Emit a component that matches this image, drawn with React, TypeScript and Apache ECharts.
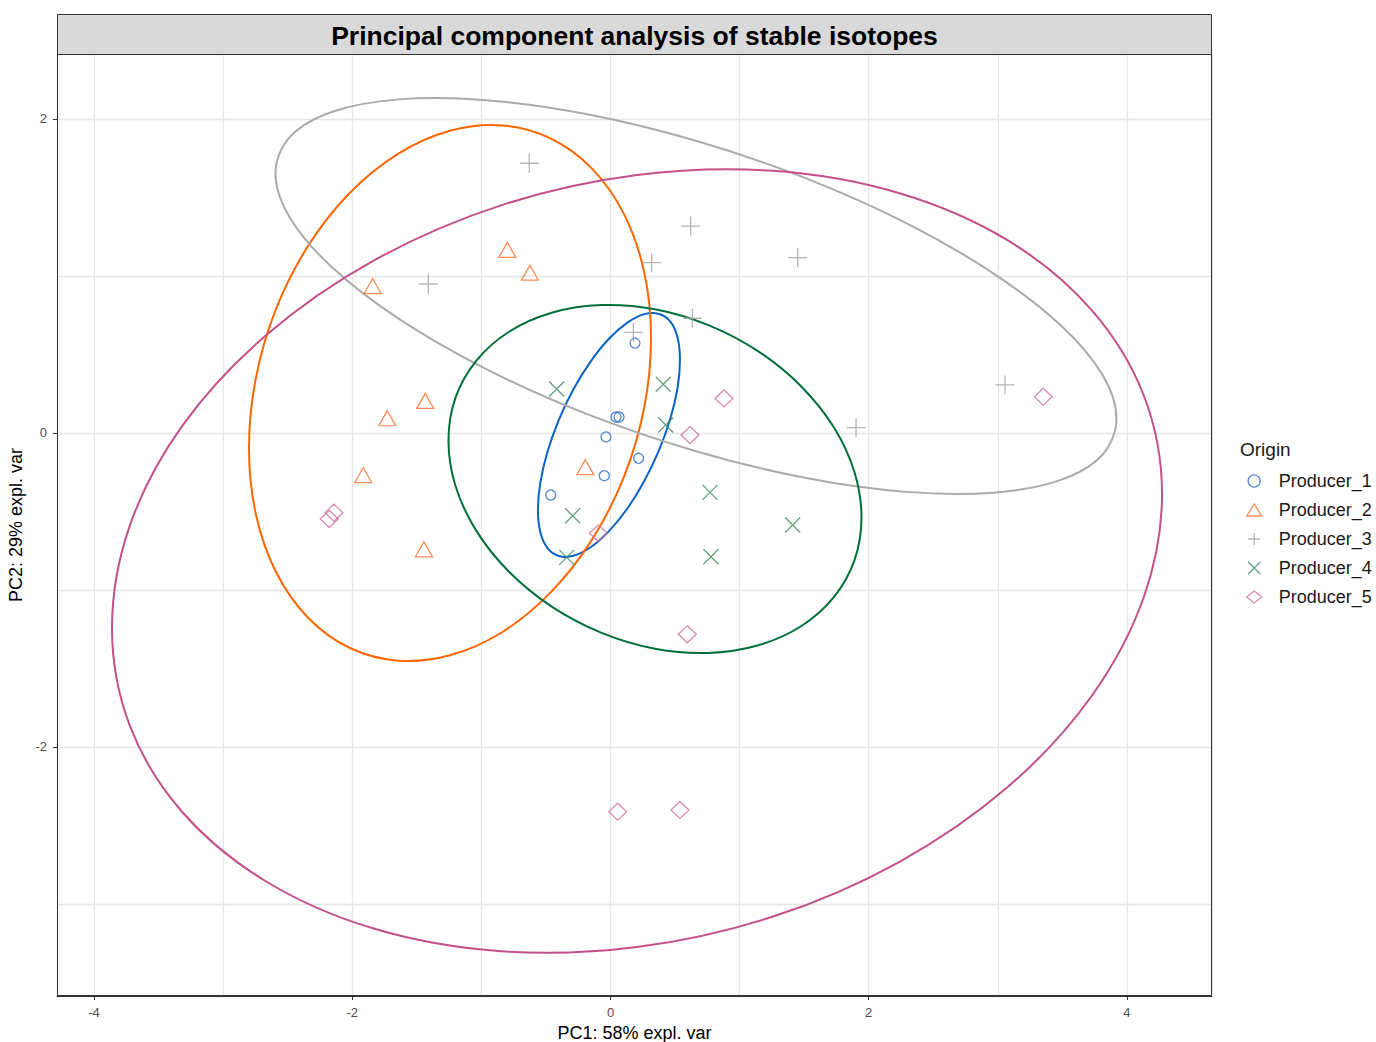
import React, { useEffect, useRef } from "react";
import * as echarts from "echarts";

const TITLE = "Principal component analysis of stable isotopes";
const X_NAME = "PC1: 58% expl. var";
const Y_NAME = "PC2: 29% expl. var";
const LEGEND_TITLE = "Origin";
const GROUPS = ["Producer_1", "Producer_2", "Producer_3", "Producer_4", "Producer_5"];
const X_TICKS = [-4, -2, 0, 2, 4];
const Y_TICKS = [-2, 0, 2];
const X_RANGE = [-4.287, 4.659];
const Y_RANGE = [-3.586, 2.414];

// points [PC1, PC2]
const producer1 = [
  [0.19, 0.573], [0.043, 0.102], [0.066, 0.102], [-0.035, -0.025],
  [0.218, -0.161], [-0.048, -0.272], [-0.463, -0.395],
];
const producer2 = [
  [-0.799, 1.166], [-0.624, 1.021], [-1.842, 0.936], [-1.435, 0.204],
  [-1.729, 0.094], [-1.915, -0.268], [-0.195, -0.218], [-1.445, -0.741],
];
const producer3 = [
  [-0.629, 1.718], [0.621, 1.318], [0.319, 1.085], [1.45, 1.117],
  [-1.411, 0.949], [0.634, 0.731], [0.177, 0.641], [3.056, 0.306], [1.902, 0.034],
];
const producer4 = [
  [-0.417, 0.28], [0.409, 0.31], [0.428, 0.051], [0.771, -0.378],
  [-0.293, -0.527], [1.411, -0.586], [0.778, -0.788], [-0.339, -0.792],
];
const producer5 = [
  [0.879, 0.22], [0.616, -0.013], [3.352, 0.231], [-0.094, -0.639],
  [0.595, -1.282], [-2.178, -0.548], [-2.142, -0.508], [0.056, -2.412], [0.538, -2.401],
];

// ellipse outlines (closed loops)
const ellipse1 = [
  [0.538, 0.465], [0.52, 0.607], [0.465, 0.708], [0.377, 0.758], [0.263, 0.757], [0.131, 0.703],
  [-0.012, 0.6], [-0.154, 0.455], [-0.287, 0.279], [-0.4, 0.083], [-0.488, -0.12], [-0.543, -0.315],
  [-0.562, -0.49], [-0.543, -0.632], [-0.488, -0.733], [-0.4, -0.783], [-0.287, -0.782], [-0.154, -0.728],
  [-0.012, -0.625], [0.131, -0.481], [0.263, -0.304], [0.377, -0.108], [0.465, 0.095], [0.52, 0.29],
];
const ellipse2 = [
  [0.314, 0.605], [0.261, 1.025], [0.105, 1.394], [-0.143, 1.684], [-0.465, 1.877], [-0.84, 1.959],
  [-1.243, 1.925], [-1.646, 1.778], [-2.022, 1.527], [-2.344, 1.189], [-2.592, 0.787], [-2.747, 0.349],
  [-2.8, -0.096], [-2.747, -0.516], [-2.592, -0.884], [-2.344, -1.175], [-2.022, -1.368], [-1.646, -1.45],
  [-1.243, -1.416], [-0.84, -1.269], [-0.465, -1.017], [-0.143, -0.679], [0.105, -0.278], [0.261, 0.161],
];
const ellipse3 = [
  [3.919, 0.089], [3.809, 0.372], [3.483, 0.689], [2.965, 1.017], [2.291, 1.337], [1.505, 1.625],
  [0.662, 1.861], [-0.18, 2.03], [-0.966, 2.12], [-1.641, 2.125], [-2.159, 2.045], [-2.484, 1.885],
  [-2.595, 1.656], [-2.484, 1.373], [-2.159, 1.057], [-1.641, 0.728], [-0.966, 0.408], [-0.18, 0.12],
  [0.662, -0.116], [1.505, -0.285], [2.291, -0.375], [2.965, -0.38], [3.483, -0.3], [3.809, -0.14],
];
const ellipse4 = [
  [1.944, -0.538], [1.89, -0.25], [1.73, 0.036], [1.476, 0.298], [1.145, 0.52], [0.758, 0.687],
  [0.345, 0.788], [-0.069, 0.815], [-0.455, 0.766], [-0.786, 0.645], [-1.04, 0.46], [-1.201, 0.224],
  [-1.255, -0.048], [-1.201, -0.336], [-1.04, -0.622], [-0.786, -0.884], [-0.455, -1.106], [-0.069, -1.273],
  [0.345, -1.374], [0.758, -1.401], [1.145, -1.352], [1.476, -1.231], [1.73, -1.046], [1.89, -0.81],
];
const ellipse5 = [
  [4.272, -0.389], [4.133, 0.234], [3.727, 0.783], [3.081, 1.225], [2.239, 1.527], [1.259, 1.67],
  [0.205, 1.643], [-0.848, 1.45], [-1.828, 1.101], [-2.67, 0.621], [-3.317, 0.045], [-3.723, -0.59],
  [-3.861, -1.242], [-3.723, -1.864], [-3.317, -2.414], [-2.67, -2.855], [-1.828, -3.158], [-0.848, -3.301],
  [0.205, -3.274], [1.259, -3.08], [2.239, -2.731], [3.081, -2.252], [3.727, -1.675], [4.133, -1.04],
];

const POINTS = [producer1, producer2, producer3, producer4, producer5];
const ELLIPSES = [ellipse1, ellipse2, ellipse3, ellipse4, ellipse5];
const POINT_COLORS = ["#2a6cc8", "#ff7030", "#a3a3a3", "#3f8a5c", "#d0709f"];
const LINE_COLORS = ["#0a64c8", "#ff6600", "#ababab", "#006f3a", "#c4508a"];
const SYMBOLS = [
  "circle",
  "triangle",
  "path://M10,0L10,20M0,10L20,10",
  "path://M0,0L20,20M20,0L0,20",
  "diamond",
];
const SYMBOL_SIZES: any[] = [10, [17, 15], 19, 15, [18, 17]];

const FONT = "'Liberation Sans', Arial, sans-serif";

const isTick = (ticks: number[], v: number) => ticks.some((t) => Math.abs(t - v) < 1e-6);

export default function App() {
  const ref = useRef<HTMLDivElement>(null);
  useEffect(() => {
    if (!ref.current) return;
    const chart = echarts.init(ref.current, null, { renderer: "svg" });
    const series: any[] = [];
    ELLIPSES.forEach((e, i) => {
      series.push({
        type: "custom",
        name: GROUPS[i] + " ellipse",
        data: e,
        encode: { x: 0, y: 1 },
        xAxisIndex: 0,
        yAxisIndex: 0,
        silent: true,
        z: 2,
        renderItem: (params: any, api: any) => {
          if (params.dataIndex !== 0) return null;
          const pts = e.map((p) => api.coord(p));
          return {
            type: "polygon",
            shape: { points: pts, smooth: 0.34 },
            style: { fill: "none", stroke: LINE_COLORS[i], lineWidth: 2 },
          };
        },
      });
    });
    POINTS.forEach((p, i) => {
      series.push({
        type: "scatter",
        name: GROUPS[i],
        data: p,
        xAxisIndex: 0,
        yAxisIndex: 0,
        symbol: SYMBOLS[i],
        symbolSize: SYMBOL_SIZES[i],
        itemStyle: { color: "transparent", borderColor: POINT_COLORS[i], borderWidth: 1.3 },
        z: 3,
      });
    });
    const axisCommon = {
      type: "value",
      axisLine: { show: true, onZero: false, lineStyle: { color: "#333333", width: 1 } },
      axisTick: { show: true, length: 4, lineStyle: { color: "#333333", width: 1 } },
      splitLine: { show: false },
    };
    const gridAxis = {
      type: "value",
      minInterval: 1,
      maxInterval: 1,
      axisLine: { show: false, onZero: false },
      axisTick: { show: false },
      axisLabel: { show: false },
      splitLine: { show: true, lineStyle: { color: "#e6e6e6", width: 1.3 } },
    };
    chart.setOption({
      animation: false,
      backgroundColor: "#ffffff",
      textStyle: { fontFamily: FONT },
      grid: { left: 57, right: 164, top: 54, bottom: 46, show: false, containLabel: false, outerBoundsMode: "none" },
      xAxis: [
        {
          ...axisCommon,
          position: "bottom",
          min: X_RANGE[0],
          max: X_RANGE[1],
          minInterval: 2,
          maxInterval: 2,
          splitNumber: 4,
          axisLabel: {
            color: "#4d4d4d",
            fontSize: 13,
            margin: 10,
            fontFamily: FONT,
            customValues: X_TICKS,
            formatter: (v: number) => (isTick(X_TICKS, v) ? String(Math.round(v)) : ""),
          },
          axisTick: { ...axisCommon.axisTick, customValues: X_TICKS },
          name: X_NAME,
          nameLocation: "middle",
          nameGap: 26,
          nameTextStyle: { fontSize: 18, color: "#000000", fontFamily: FONT },
          z: 5,
        },
        { ...gridAxis, min: X_RANGE[0], max: X_RANGE[1], splitNumber: 9, position: "top" },
      ],
      yAxis: [
        {
          ...axisCommon,
          position: "left",
          min: Y_RANGE[0],
          max: Y_RANGE[1],
          minInterval: 2,
          maxInterval: 2,
          splitNumber: 3,
          axisLabel: {
            color: "#4d4d4d",
            fontSize: 13,
            margin: 10,
            fontFamily: FONT,
            customValues: Y_TICKS,
            formatter: (v: number) => (isTick(Y_TICKS, v) ? String(Math.round(v)) : ""),
          },
          axisTick: { ...axisCommon.axisTick, customValues: Y_TICKS },
          name: Y_NAME,
          nameLocation: "middle",
          nameGap: 20,
          nameTextStyle: { fontSize: 18, color: "#000000", fontFamily: FONT },
          z: 5,
        },
        { ...gridAxis, min: Y_RANGE[0], max: Y_RANGE[1], splitNumber: 6, position: "right" },
      ],
      legend: {
        orient: "vertical",
        left: 1246,
        top: 472,
        padding: 0,
        itemWidth: 15,
        itemHeight: 12,
        itemGap: 11,
        selectedMode: false,
        textStyle: { fontSize: 18, color: "#1a1a1a", fontFamily: FONT, padding: [0, 0, 0, 12] },
        data: GROUPS.map((g, i) => ({
          name: g,
          icon: SYMBOLS[i],
          itemStyle: { color: "transparent", borderColor: POINT_COLORS[i], borderWidth: 1.3 },
        })),
      },
      graphic: [
        {
          type: "rect",
          shape: { x: 57.5, y: 14.5, width: 1154, height: 40 },
          style: { fill: "#d9d9d9", stroke: "#333333", lineWidth: 1 },
          z: 10,
        },
        {
          type: "text",
          x: 634.5,
          y: 36,
          style: {
            text: TITLE,
            fontSize: 26.5,
            fontWeight: "bold",
            fontFamily: FONT,
            fill: "#000000",
            textAlign: "center",
            textVerticalAlign: "middle",
          },
          z: 11,
        },
        {
          type: "rect",
          shape: { x: 57.5, y: 54.5, width: 1154, height: 941 },
          style: { fill: "none", stroke: "#333333", lineWidth: 1 },
          silent: true,
          z: 10,
        },
        {
          type: "text",
          x: 1240,
          y: 449,
          style: {
            text: LEGEND_TITLE,
            fontSize: 19,
            fontFamily: FONT,
            fill: "#1a1a1a",
            textAlign: "left",
            textVerticalAlign: "middle",
          },
          z: 11,
        },
      ],
      series,
    });
    return () => chart.dispose();
  }, []);
  return (
    <div
      ref={ref}
      style={{ position: "fixed", left: 0, top: 0, width: 1376, height: 1042, background: "#fff" }}
    />
  );
}
